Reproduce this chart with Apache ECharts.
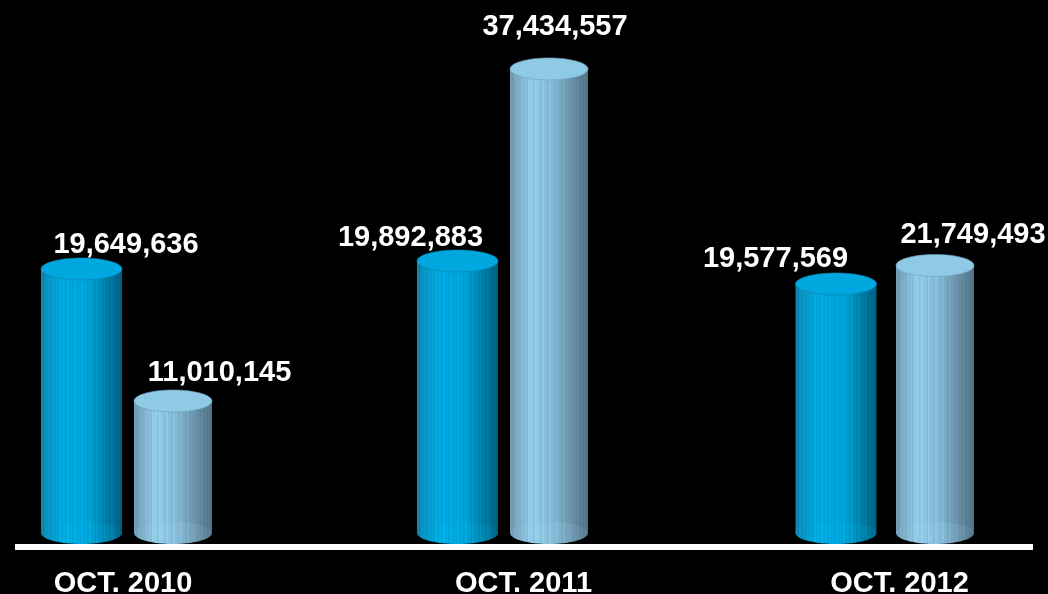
<!DOCTYPE html>
<html>
<head>
<meta charset="utf-8">
<style>html,body{margin:0;padding:0;background:#000}#c{width:1048px;height:594px}</style>
<script src="https://cdn.jsdelivr.net/npm/echarts@6/dist/echarts.min.js"></script>
</head>
<body>
<div id="c"></div>
<script>
// ---- data ----
const categories = ['OCT. 2010', 'OCT. 2011', 'OCT. 2012'];
const blueValues = [19649636, 19892883, 19577569];
const lightValues = [11010145, 37434557, 21749493];

// ---- layout and style ----
// The original drew each period on its own scale, so each period has its own value axis range.
const axisRanges = [[2370000, 37250000], [-4950000, 43730000], [-9650000, 52900000]];
const gridLeft = [35.75, 411.75, 786.5];
const gridWidth = [183, 183, 198];
const gridBottomY = 533, ry = 11;
const barWidths = [81, 78];
const labelOffsets = [
  [[44.5, -23.5], [46.5, -27.5]],
  [[-47, -22.5], [6, -41.5]],
  [[-60.5, -24.5], [38, -30]]
];
const categoryCenters = [123, 523.5, 899.5];
const FONT = '"Liberation Sans", Arial, sans-serif';

function hex(c) { return [1, 3, 5].map(i => parseInt(c.substr(i, 2), 16)); }
function stripes(anchors, bands) {
  const stops = [];
  for (let i = 0; i < bands; i++) {
    const t = (i + 0.5) / bands;
    let k = 0;
    while (k < anchors.length - 2 && t > anchors[k + 1][0]) k++;
    const a = anchors[k], b = anchors[k + 1];
    const f = Math.min(1, Math.max(0, (t - a[0]) / (b[0] - a[0])));
    const ca = hex(a[1]), cb = hex(b[1]);
    const wob = [1, 0.96, 1.03, 0.98][i % 4];
    const rgb = ca.map((v, j) => Math.min(255, Math.round((v + (cb[j] - v) * f) * wob)));
    const col = 'rgb(' + rgb.join(',') + ')';
    stops.push({ offset: i / bands, color: col }, { offset: (i + 1) / bands, color: col });
  }
  return new echarts.graphic.LinearGradient(0, 0, 1, 0, stops);
}
const palettes = [
  {
    top: '#00a8df', edge: '#0a7fa8',
    body: stripes([[0, '#0a86b2'], [0.1, '#0a96c6'], [0.28, '#00aae2'], [0.58, '#00a4da'], [0.82, '#007fa8'], [1, '#005f80']], 44),
    base: stripes([[0, '#0a8ab6'], [0.28, '#00aee6'], [0.6, '#00a6dc'], [0.85, '#0084ac'], [1, '#00668c']], 44)
  },
  {
    top: '#8ecae6', edge: '#6f9db5',
    body: stripes([[0, '#7199ae'], [0.12, '#82b2cc'], [0.28, '#90cdea'], [0.55, '#84bad6'], [0.8, '#678fa6'], [1, '#507486']], 44),
    base: stripes([[0, '#76a2ba'], [0.28, '#93cfea'], [0.58, '#88bed9'], [0.85, '#6a92a8'], [1, '#55798c']], 44)
  }
];

function renderFor(groupIndex) {
  return function (params, api) {
    const i = api.value(0), v = api.value(1);
    const p = api.coord([i, v]);
    const base = api.coord([i, axisRanges[groupIndex][0]]);
    const rx = barWidths[i] / 2;
    const pal = palettes[i];
    const off = labelOffsets[groupIndex][i];
    return {
      type: 'group',
      children: [
        { type: 'rect', shape: { x: p[0] - rx, y: p[1], width: rx * 2, height: base[1] - p[1] }, style: { fill: pal.body } },
        { type: 'ellipse', shape: { cx: p[0], cy: base[1], rx: rx, ry: ry }, style: { fill: pal.base } },
        { type: 'ellipse', shape: { cx: p[0], cy: p[1], rx: rx, ry: ry }, style: { fill: pal.top, stroke: pal.edge, lineWidth: 0.6 } },
        {
          type: 'text',
          style: {
            text: v.toLocaleString('en-US'), x: p[0] + off[0], y: p[1] + off[1],
            fill: '#fff',
            font: 'bold 29px ' + FONT, textAlign: 'center', textVerticalAlign: 'middle'
          }
        }
      ]
    };
  };
}

const chart = echarts.init(document.getElementById('c'), null, { renderer: 'canvas' });
chart.setOption({
  backgroundColor: '#000',
  animation: false,
  title: categories.map((c, i) => ({
    text: c, left: categoryCenters[i], top: 567.5, textAlign: 'center', padding: 0,
    textStyle: { color: '#fff', fontFamily: FONT, fontWeight: 'bold', fontSize: 29, lineHeight: 32 }
  })),
  grid: categories.map((c, i) => ({ left: gridLeft[i], width: gridWidth[i], top: 0, height: gridBottomY })),
  xAxis: categories.map((c, i) => ({ type: 'category', gridIndex: i, data: [c + ' A', c + ' B'], show: false })),
  yAxis: categories.map((c, i) => ({ type: 'value', gridIndex: i, min: axisRanges[i][0], max: axisRanges[i][1], show: false })),
  series: categories.map((c, i) => ({
    type: 'custom', name: c, xAxisIndex: i, yAxisIndex: i, clip: false,
    encode: { x: 0, y: 1 },
    data: [[0, blueValues[i]], [1, lightValues[i]]],
    renderItem: renderFor(i)
  })),
  graphic: [{ type: 'rect', shape: { x: 15, y: 544, width: 1018, height: 6 }, style: { fill: '#fff' }, z: 100 }]
});
</script>
</body>
</html>
